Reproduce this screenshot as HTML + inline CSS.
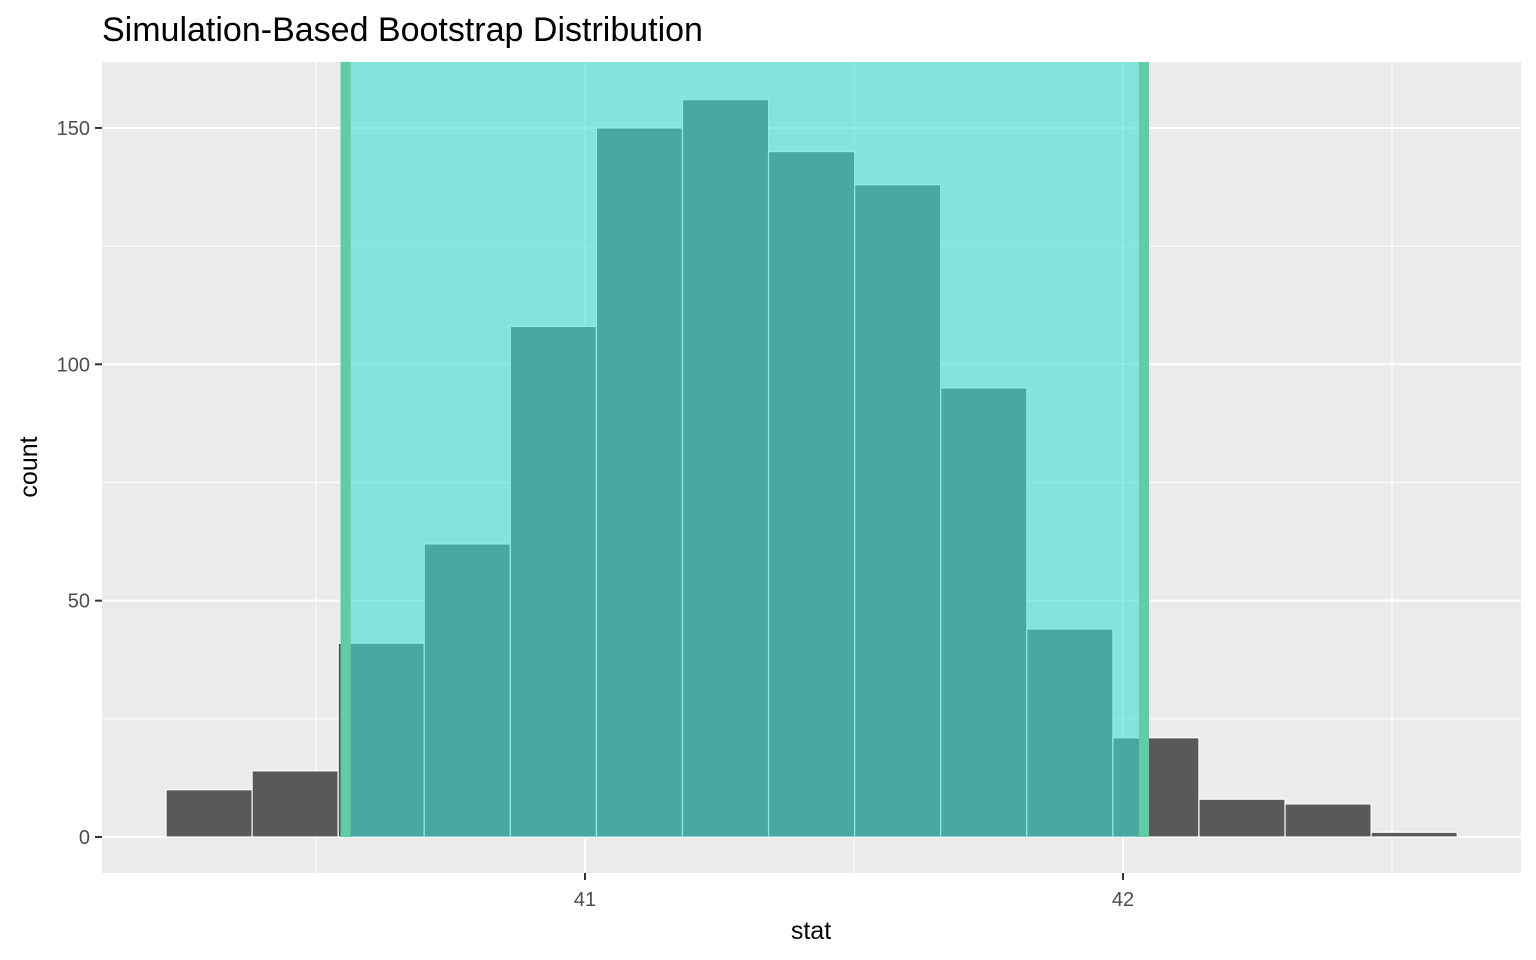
<!DOCTYPE html>
<html><head><meta charset="utf-8"><style>
html,body{margin:0;padding:0;background:#fff;}
svg{display:block;font-family:"Liberation Sans",Arial,sans-serif;}
</style></head><body>
<svg id="chart" width="1536" height="960">
<rect x="102" y="62" width="1419" height="811" fill="#EBEBEB"/>
<g id="grid"></g><g id="bars"></g><g id="shade"></g><g id="axes"></g>
<text x="102" y="41" font-size="34" fill="#000">Simulation-Based Bootstrap Distribution</text>
<text x="811" y="939" font-size="25" text-anchor="middle" fill="#000">stat</text>
<text transform="translate(37,467) rotate(-90)" font-size="25" text-anchor="middle" fill="#000">count</text>
</svg>
<script>
const binStart = 40.2212;
const binWidth = 0.16;
const counts = [10,14,41,62,108,150,156,145,138,95,44,21,8,7,1];
const ciBounds = [40.555, 42.039];
const xTicks = [41,42];
const xMinor = [40.5,41.5,42.5];
const yTicks = [0,50,100,150];
const yMinor = [25,75,125];
const NS='http://www.w3.org/2000/svg';
const X=v=>585+(v-41)*538;
const Y=v=>837-v*4.727;
function mk(tag,attrs,parent){const e=document.createElementNS(NS,tag);for(const k in attrs)e.setAttribute(k,attrs[k]);document.getElementById(parent).appendChild(e);return e;}
const L=102,R=1521,T=62,B=873;
xMinor.forEach(v=>{const e=mk('line',{x1:X(v),x2:X(v),y1:T,y2:B,stroke:'#fff','stroke-width':1},'grid');

});
yMinor.forEach(v=>{const e=mk('line',{x1:L,x2:R,y1:Y(v),y2:Y(v),stroke:'#fff','stroke-width':1},'grid');

});
xTicks.forEach(v=>{const e=mk('line',{x1:X(v),x2:X(v),y1:T,y2:B,stroke:'#fff','stroke-width':2},'grid');


const t=mk('line',{x1:X(v),x2:X(v),y1:B,y2:B+7,stroke:'#333','stroke-width':2},'axes');


const l=mk('text',{x:X(v),y:906,'font-size':20,'text-anchor':'middle',fill:'#4D4D4D'},'axes');l.textContent=v;

});
yTicks.forEach(v=>{const e=mk('line',{x1:L,x2:R,y1:Y(v),y2:Y(v),stroke:'#fff','stroke-width':2},'grid');


const t=mk('line',{x1:L-7,x2:L,y1:Y(v),y2:Y(v),stroke:'#333','stroke-width':2},'axes');


const l=mk('text',{x:L-12,y:Y(v)+7,'font-size':20,'text-anchor':'end',fill:'#4D4D4D'},'axes');l.textContent=v;

});
counts.forEach((c,i)=>{const x0=X(binStart+i*binWidth),x1=X(binStart+(i+1)*binWidth);
const b=mk('rect',{x:x0,y:Y(c),width:x1-x0,height:Y(0)-Y(c),fill:'#595959',stroke:'#fff','stroke-width':1.2},'bars');

});
const s=mk('rect',{x:X(ciBounds[0]),y:T,width:X(ciBounds[1])-X(ciBounds[0]),height:Y(0)-T,fill:'#40E0D0','fill-opacity':0.6},'shade');


ciBounds.forEach(v=>{const e=mk('line',{x1:X(v),x2:X(v),y1:T,y2:Y(0),stroke:'#5FCDA6','stroke-width':10},'shade');

});
</script>
</body></html>
